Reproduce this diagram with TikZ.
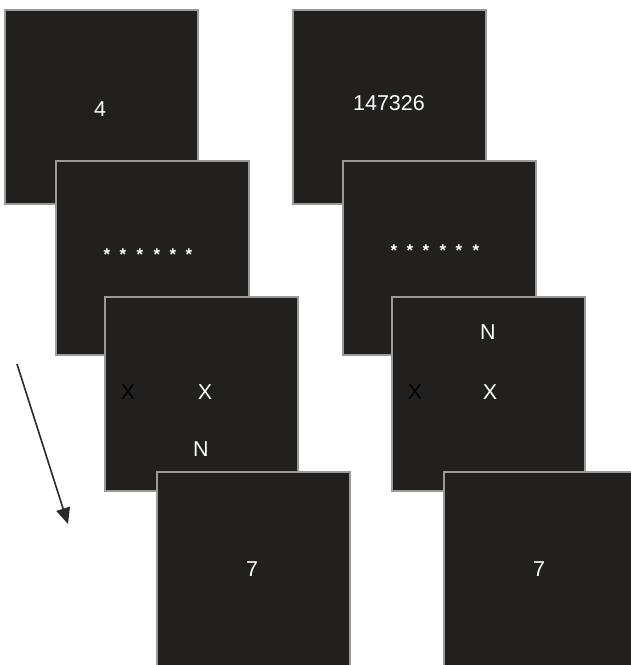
\documentclass[tikz,border=0pt]{standalone}
\usepackage{fontspec}
\setmainfont{Liberation Sans}
\usetikzlibrary{arrows.meta}
\definecolor{screen}{HTML}{221F1F}
\definecolor{rim}{HTML}{9A9A9A}
\definecolor{arrowgrey}{HTML}{2A2A2A}
\tikzset{
  screenbox/.style={draw=rim, line width=2pt, fill=screen, minimum width=193pt,
    minimum height=194pt, inner sep=0pt, anchor=north west},
  lbl/.style={text=white, font=\fontsize{21.5}{21.5}\selectfont, inner sep=0pt},
  dark/.style={text=black, font=\fontsize{21.5}{21.5}\selectfont, inner sep=0pt},
  ast/.style={text=white, font=\bfseries\fontsize{17}{17}\selectfont, inner sep=0pt, anchor=center},
}
\begin{document}
\begin{tikzpicture}[x=1pt,y=-1pt]
\useasboundingbox (0,0) rectangle (631,665);

% left sequence
\node[screenbox] (l1) at (4,9) {};
\node[lbl] (l1t) at (100,109) {4};
\node[screenbox] (l2) at (55,160) {};
\foreach \i/\x in {1/107,2/123,3/140,4/157,5/173,6/189}
  \node[ast] (la\i) at (\x,255) {*};
\node[screenbox] (l3) at (104,296) {};
\node[dark] (l3x) at (128,392) {X};
\node[lbl] (l3y) at (205,392) {X};
\node[lbl] (l3n) at (201,449) {N};
\node[screenbox] (l4) at (156,471) {};
\node[lbl] (l4t) at (252,569) {7};

% right sequence
\node[screenbox] (r1) at (292,9) {};
\node[lbl] (r1t) at (389,103) {147326};
\node[screenbox] (r2) at (342,160) {};
\foreach \i/\x in {1/394,2/410,3/426,4/443,5/459,6/476}
  \node[ast] (ra\i) at (\x,251) {*};
\node[screenbox] (r3) at (391,296) {};
\node[lbl] (r3n) at (488,332) {N};
\node[dark] (r3x) at (415,392) {X};
\node[lbl] (r3y) at (490,392) {X};
\node[screenbox] (r4) at (443,471) {};
\node[lbl] (r4t) at (539,569) {7};

% time arrow
\coordinate (tstart) at (17,364);
\coordinate (tend) at (68,524);
\draw[arrowgrey, line width=1.6pt, -{Triangle[length=16pt,width=14pt]}] (tstart) -- (tend);
\end{tikzpicture}
\end{document}
